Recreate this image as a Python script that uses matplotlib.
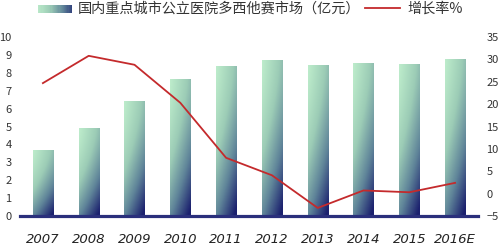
import numpy as np
import matplotlib
matplotlib.use('Agg')
import matplotlib.pyplot as plt
from matplotlib.colors import LinearSegmentedColormap
from matplotlib.patches import Rectangle
from matplotlib.lines import Line2D

plt.rcParams['font.family'] = ['Noto Sans CJK SC', 'DejaVu Sans']

years = ['2007', '2008', '2009', '2010', '2011', '2012', '2013', '2014', '2015', '2016E']
market = [3.7, 4.9, 6.4, 7.65, 8.4, 8.7, 8.45, 8.55, 8.5, 8.8]   # 亿元
growth = [24.7, 30.8, 28.8, 20.3, 8.0, 4.1, -3.2, 0.7, 0.3, 2.4]  # %

bar_label = '国内重点城市公立医院多西他赛市场（亿元）'
line_label = '增长率%'

cmap = LinearSegmentedColormap.from_list('bar', ['#bdeccb', '#9cccb6', '#5f8499', '#1b206e'])

# diagonal gradient: light at top-left, navy at bottom-right
gx, gy = np.meshgrid(np.linspace(0, 1, 40), np.linspace(1, 0, 100))
grad = np.clip(0.4 * gx + 0.65 * (1 - gy) ** 1.4, 0, 1)

fig = plt.figure(figsize=(5, 2.52), dpi=100)
ax = fig.add_axes([0.04, 0.143, 0.916, 0.71])
x = np.arange(len(years))

bars = ax.bar(x, market, width=0.44, color='none', edgecolor='none')
for b in bars:
    x0, w, h = b.get_x(), b.get_width(), b.get_height()
    im = ax.imshow(grad, cmap=cmap, vmin=0, vmax=1, extent=[x0, x0 + w, 0, h],
                   aspect='auto', origin='upper', zorder=2)
    im.set_clip_path(b)

# baseline (nearly solid navy band)
ax.axhline(0, color='#2a2f7c', lw=2.3, zorder=3, clip_on=False)
ax.set_xlim(-0.5, 9.5)
ax.set_ylim(0, 10)
ax.set_yticks(range(0, 11))
ax.set_xticks(x)
ax.set_xticklabels(years, fontsize=9.5, style='italic', family='DejaVu Sans')
ax.tick_params(axis='y', labelsize=8, length=0, pad=6, colors='#333333')
ax.tick_params(axis='x', length=0, pad=12, colors='#222222')
for s in ax.spines.values():
    s.set_visible(False)

ax2 = ax.twinx()
ax2.plot(x, growth, color='#c42a2c', lw=1.3, zorder=4)
ax2.set_ylim(-5, 35)
ax2.set_yticks(range(-5, 36, 5))
ax2.tick_params(axis='y', labelsize=8, length=0, pad=6, colors='#333333')
for s in ax2.spines.values():
    s.set_visible(False)

# legend across the top
n = 30
for i in range(n):
    fig.patches.append(Rectangle((0.076 + i * 0.068 / n, 1 - 12.5 / 252), 0.068 / n + 0.0005, 7.5 / 252,
                                 transform=fig.transFigure,
                                 color=cmap(0.05 + 0.85 * i / n), lw=0))
fig.text(0.156, 1 - 9 / 252, bar_label, fontsize=10.2, va='center', ha='left', color='#333333')
fig.lines.append(Line2D([0.73, 0.80], [1 - 8 / 252, 1 - 8 / 252], transform=fig.transFigure,
                        color='#c42a2c', lw=1.3))
fig.text(0.814, 1 - 9 / 252, line_label, fontsize=10.2, va='center', ha='left', color='#333333')

fig.savefig('out.png', dpi=100)
